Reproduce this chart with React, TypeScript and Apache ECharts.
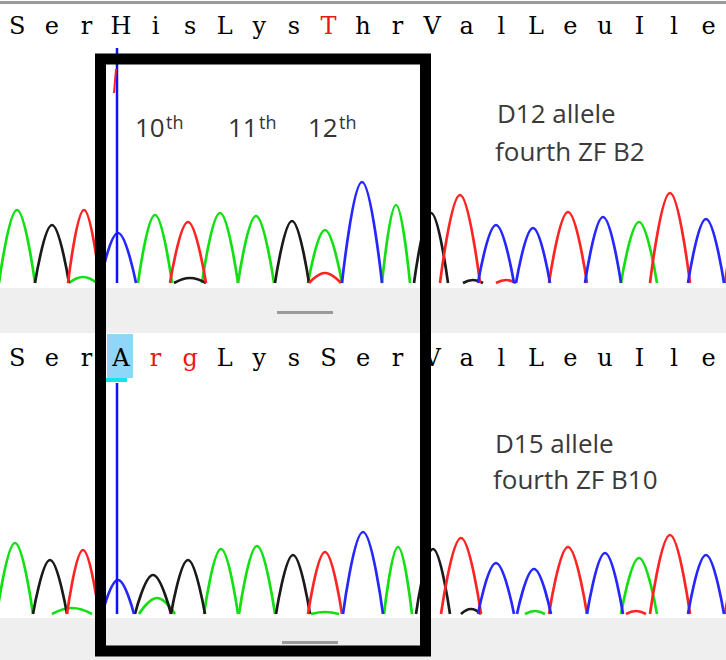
import React, { useEffect, useRef } from "react";
import * as echarts from "echarts";

// Amino-acid rows (category tick labels)
const topRow = ["S","e","r","H","i","s","L","y","s","T","h","r","V","a","l","L","e","u","I","l","e"];
const topRowRed = [9];
const bottomRow = ["S","e","r","A","r","g","L","y","s","S","e","r","V","a","l","L","e","u","I","l","e"];
const bottomRowRed = [4, 5];

// Peaks: [scan position, height, half-width]
const topGreen = [[17,73,18],[83,6,14],[155,68,17],[220,70,18],[256,67,18],[325,53,17],[396,78,14],[639,61,18]];
const topBlack = [[52,58,17],[190,5,16],[292,62,17],[431,70,17],[473,3,10]];
const topRed = [[84,73,16],[188,61,18],[325,10,16],[460,88,20],[506,3,10],[568,71,19],[670,90,20],[745,80,20]];
const topBlue = [[118,50,18],[362,101,20],[496,58,18],[533,55,17],[603,66,18],[706,64,18]];

const botGreen = [[15,71,18],[72,6,20],[157,16,18],[221,65,17],[257,68,18],[325,2,14],[398,67,14],[535,3,10],[639,56,18]];
const botBlack = [[50,54,17],[153,39,18],[188,54,17],[293,59,17],[433,65,17],[471,5,10]];
const botRed = [[83,64,16],[325,62,17],[461,76,20],[568,67,19],[636,3,10],[670,79,20],[745,70,20]];
const botBlue = [[118,34,16],[363,82,20],[496,51,18],[534,45,17],[605,61,18],[706,59,18]];

// Cursor line (scan position, top height)
const topCursor = [[117, 0], [117, 235]];
const botCursor = [[117, 0], [117, 231]];
const topArtifact = [[114, 190], [116, 214]];

const COLORS = { green: "#12e012", black: "#1a1a1a", red: "#ff2424", blue: "#2626ff" };

function peakSeries(peaks: number[][], color: string, gridIdx: number) {
  return peaks.map(([x, h, w]) => ({
    type: "line",
    xAxisIndex: gridIdx,
    yAxisIndex: gridIdx,
    data: [[x - w, 0], [x, h], [x + w, 0]],
    smooth: 0.45,
    symbol: "none",
    lineStyle: { color, width: 2.7 },
    silent: true,
  }));
}

function lineSeries(data: number[][], color: string, gridIdx: number, width: number) {
  return {
    type: "line",
    xAxisIndex: gridIdx,
    yAxisIndex: gridIdx,
    data,
    symbol: "none",
    lineStyle: { color, width },
    silent: true,
    z: 3,
  };
}

const rowFont = "DejaVu Serif";

function letterAxis(row: string[], red: number[], gridIdx: number, margin: number) {
  return {
    type: "category",
    gridIndex: gridIdx,
    data: row,
    boundaryGap: true,
    position: "bottom",
    axisLine: { show: false },
    axisTick: { show: false },
    splitLine: { show: false },
    axisLabel: {
      interval: 0,
      margin,
      verticalAlign: "middle",
      formatter: (v: string, i: number) => (red.includes(i) ? `{r|${v}}` : `{k|${v}}`),
      rich: {
        k: { color: "#000", fontFamily: rowFont, fontSize: 24 },
        r: { color: "#e81818", fontFamily: rowFont, fontSize: 24 },
      },
    },
  };
}

const labelFont = "Open Sans";

export default function App() {
  const ref = useRef<HTMLDivElement>(null);
  useEffect(() => {
    const chart = echarts.init(ref.current!, null, { renderer: "svg" });
    const valueX = (g: number) => ({ type: "value", gridIndex: g, min: 0, max: 726, show: false });
    const ord = (t: string, x: number, y: number, sup: string) => [
      { type: "text", z: 20, style: { text: t, x, y, font: `26px "${labelFont}"`, fill: "#333", verticalAlign: "middle" } },
      { type: "text", z: 20, style: { text: sup, x: x + 31, y: y - 5, font: `18px "${labelFont}"`, fill: "#333", verticalAlign: "middle" } },
    ];
    chart.setOption({
      animation: false,
      grid: [
        { left: 0, top: 40, width: 726, height: 248, show: false },
        { left: 0, top: 372, width: 726, height: 246, show: false },
        { left: 0, top: 0, width: 726, height: 16, show: false },
        { left: 0, top: 330, width: 726, height: 20, show: false },
      ],
      xAxis: [valueX(0), valueX(1), letterAxis(topRow, topRowRed, 2, 10), letterAxis(bottomRow, bottomRowRed, 3, 8)],
      yAxis: [
        { type: "value", gridIndex: 0, min: -5, max: 243, show: false },
        { type: "value", gridIndex: 1, min: -4, max: 242, show: false },
        { type: "value", gridIndex: 2, show: false },
        { type: "value", gridIndex: 3, show: false },
      ],
      series: [
        ...peakSeries(topGreen, COLORS.green, 0),
        ...peakSeries(topBlack, COLORS.black, 0),
        ...peakSeries(topRed, COLORS.red, 0),
        ...peakSeries(topBlue, COLORS.blue, 0),
        ...peakSeries(botGreen, COLORS.green, 1),
        ...peakSeries(botBlack, COLORS.black, 1),
        ...peakSeries(botRed, COLORS.red, 1),
        ...peakSeries(botBlue, COLORS.blue, 1),
        lineSeries(topCursor, "#1010ff", 0, 2.5),
        lineSeries(botCursor, "#1010ff", 1, 2.5),
        lineSeries(topArtifact, "#ff2020", 0, 2),
      ],
      graphic: {
        elements: [
          { type: "rect", z: -10, shape: { x: 0, y: 1, width: 726, height: 3 }, style: { fill: "#9a9a9a" } },
          { type: "rect", z: -10, shape: { x: 0, y: 288, width: 726, height: 45 }, style: { fill: "#efefef" } },
          { type: "rect", z: -10, shape: { x: 0, y: 618, width: 726, height: 42 }, style: { fill: "#efefef" } },
          { type: "rect", z: -9, shape: { x: 277, y: 311, width: 56, height: 3 }, style: { fill: "#9a9a9a" } },
          { type: "rect", z: -9, shape: { x: 282, y: 641, width: 56, height: 3 }, style: { fill: "#9a9a9a" } },
          { type: "rect", z: -10, shape: { x: 107, y: 334, width: 26, height: 44 }, style: { fill: "#8fd6f8" } },
          { type: "rect", z: -9, shape: { x: 106, y: 378, width: 21, height: 4 }, style: { fill: "#19e0f0" } },
          ...ord("10", 135, 127, "th"),
          ...ord("11", 228, 127, "th"),
          ...ord("12", 308, 127, "th"),
          { type: "text", z: 20, style: { text: "D12 allele", x: 497, y: 112.5, font: `26px "${labelFont}"`, fill: "#3a3a3a", verticalAlign: "middle" } },
          { type: "text", z: 20, style: { text: "fourth ZF B2", x: 495, y: 150.5, font: `26px "${labelFont}"`, fill: "#3a3a3a", verticalAlign: "middle" } },
          { type: "text", z: 20, style: { text: "D15 allele", x: 495, y: 442.5, font: `26px "${labelFont}"`, fill: "#3a3a3a", verticalAlign: "middle" } },
          { type: "text", z: 20, style: { text: "fourth ZF B10", x: 493, y: 478.5, font: `26px "${labelFont}"`, fill: "#3a3a3a", verticalAlign: "middle" } },
          { type: "rect", z: 100, shape: { x: 100.5, y: 59, width: 325, height: 592 }, style: { fill: "none", stroke: "#000", lineWidth: 11 } },
        ],
      },
    });
    return () => chart.dispose();
  }, []);
  return <div ref={ref} style={{ position: "fixed", left: 0, top: 0, width: 726, height: 660, background: "#fff" }} />;
}
